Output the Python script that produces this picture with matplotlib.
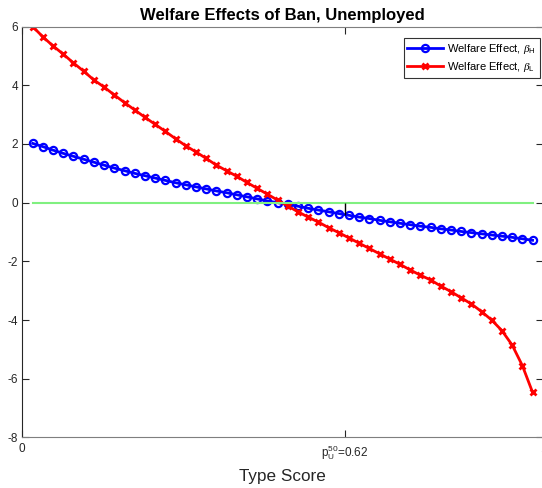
import matplotlib
matplotlib.use("Agg")
import matplotlib.pyplot as plt
import numpy as np

plt.rcParams['font.family'] = ['Liberation Sans', 'DejaVu Sans']
plt.rcParams['mathtext.fontset'] = 'custom'
plt.rcParams['mathtext.it'] = 'Liberation Serif:italic'
plt.rcParams['mathtext.rm'] = 'Liberation Sans'
plt.rcParams['axes.unicode_minus'] = False

# type score grid (50 points)
type_score = np.linspace(0.02, 0.98, 50)

# welfare effect, beta_H
welfare_h = [2.02, 1.91, 1.79, 1.68, 1.58, 1.48, 1.38, 1.28, 1.18, 1.09,
             1.00, 0.92, 0.84, 0.76, 0.68, 0.61, 0.54, 0.47, 0.40, 0.34,
             0.27, 0.20, 0.13, 0.06, 0.00, -0.06, -0.12, -0.19, -0.25, -0.31,
             -0.37, -0.43, -0.49, -0.54, -0.60, -0.65, -0.70, -0.75, -0.80, -0.84,
             -0.89, -0.93, -0.98, -1.02, -1.06, -1.10, -1.14, -1.18, -1.23, -1.28]

# welfare effect, beta_L
welfare_l = [6.00, 5.65, 5.34, 5.06, 4.76, 4.48, 4.18, 3.94, 3.67, 3.41,
             3.16, 2.91, 2.67, 2.43, 2.18, 1.94, 1.73, 1.51, 1.28, 1.09,
             0.90, 0.69, 0.49, 0.29, 0.09, -0.11, -0.31, -0.49, -0.66, -0.85,
             -1.02, -1.20, -1.38, -1.56, -1.74, -1.92, -2.10, -2.29, -2.47, -2.63,
             -2.84, -3.03, -3.24, -3.45, -3.71, -4.00, -4.36, -4.85, -5.55, -6.46]

median_score = 0.62
xtick_vals = [0, median_score, 1]
xtick_labels = ['0', r'$\mathregular{p_U^{50}}$=0.62', '1']
ytick_vals = [-8, -6, -4, -2, 0, 2, 4, 6]

fig = plt.figure(figsize=(5.42, 4.88), dpi=100)
ax = fig.add_axes([0.0411, 0.1035, 0.9607, 0.842])

ax.plot(type_score, welfare_h, '-o', color='blue', lw=2, ms=5.2,
        mfc='none', mew=1.6, label=r'Welfare Effect, $\beta_{\mathregular{H}}$')
ax.plot(type_score, welfare_l, '-x', color='red', lw=2, ms=4.5,
        mew=2, label=r'Welfare Effect, $\beta_{\mathregular{L}}$')
ax.plot(type_score, np.zeros(len(type_score)), color='#80F080', lw=1.5)

# drop line at the median type score
ax.vlines(median_score, np.interp(median_score, type_score, welfare_h), 0,
          color='black', lw=1)

ax.set_xlim(0, 1)
ax.set_ylim(-8, 6)
ax.set_xticks(xtick_vals)
ax.set_xticklabels(xtick_labels)
ax.get_xticklabels()[1].set_fontsize(9.5)
ax.set_yticks(ytick_vals)
ax.tick_params(direction='in', top=True, right=True, length=5, width=0.8,
               labelsize=8.5, colors='#262626', pad=4)
ax.tick_params(axis='y', pad=3)
for s in ax.spines.values():
    s.set_color('#7f7f7f')
ax.spines['left'].set_color('#262626')

ax.set_title('Welfare Effects of Ban, Unemployed', fontsize=12,
             fontweight='bold', pad=5)
ax.set_xlabel('Type Score', fontsize=12.3, color='#262626', labelpad=5)

leg = ax.legend(loc='upper right', fontsize=8, frameon=True, fancybox=False,
                edgecolor='black', bbox_to_anchor=(0.994, 0.972),
                borderaxespad=0, handlelength=3.2, handletextpad=0.4,
                borderpad=0.35, labelspacing=0.35)
leg.get_frame().set_linewidth(0.8)

plt.savefig('out.png', dpi=100)
